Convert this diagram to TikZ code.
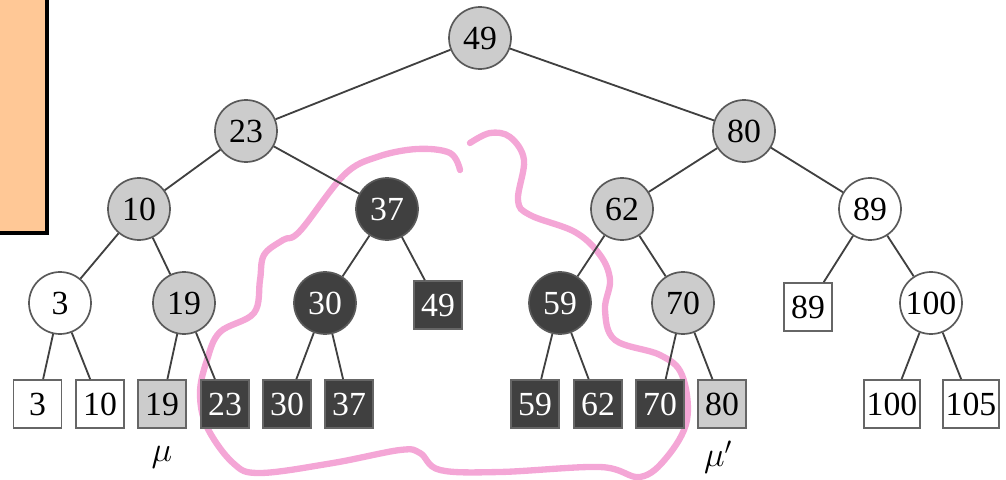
\documentclass[tikz,border=0pt]{standalone}
\usepackage{fontspec}
\setmainfont{Liberation Serif}
\definecolor{lightgrey}{RGB}{204,204,204}
\definecolor{darkgrey}{RGB}{64,64,64}
\definecolor{marker}{RGB}{244,166,214}
\definecolor{peach}{RGB}{255,200,150}

\begin{document}
\begin{tikzpicture}[
    font=\fontsize{24}{24}\selectfont,
    circ/.style={circle,draw=black!65,line width=1.2pt,minimum size=1.55cm,inner sep=0pt},
    sq/.style={rectangle,draw=black!60,line width=1.2pt,minimum size=1.2cm,inner sep=2pt},
    lite/.style={fill=lightgrey},
    dark/.style={fill=darkgrey,text=white},
    white/.style={fill=white},
    edge/.style={line width=1.3pt,black!75}]
            \useasboundingbox (0,0) rectangle (25.15,11.975);
            % box at the left edge
            \draw[line width=2.2pt,fill=peach] (-0.3,6.15) rectangle (1.175,12.3);
            % hand drawn marker round the middle part
            \draw[marker,line width=4.5pt,line cap=round] plot[smooth,tension=0.6] coordinates {
                (11.75,8.4) (12.25,8.65) (12.75,8.55) (13.1,7.975) (12.95,6.975)
                (13.25,6.6) (14.375,6.175) (15.0,5.6) (15.25,4.975) (15.125,4.225)
                (15.375,3.475) (16.5,3.1) (17.05,2.6) (17.175,1.475) (16.675,0.55)
                (16.0,0.05) (15.0,0.3) (12.5,0.175) (11.0,0.225) (10.5,0.65)
                (10.0,0.725) (8.325,0.4) (6.5,0.15) (5.825,0.4) (5.175,1.3)
                (5.0,2.15) (5.175,2.975) (5.5,3.675) (6.35,4.15) (6.5,4.975)
                (6.6,5.6) (7.075,5.975) (7.5,6.2) (8.6,7.6) (9.425,8.05)
                (10.425,8.25) (11.25,8.15) (11.5,7.725)};
            % inner nodes
            \node[circ,lite] (c49) at (12.0,11.025) {49};
            \node[circ,lite] (c23) at (6.15,8.7) {23};
            \node[circ,lite] (c80) at (18.6,8.7) {80};
            \node[circ,lite] (c10) at (3.475,6.75) {10};
            \node[circ,dark] (c37) at (9.675,6.75) {37};
            \node[circ,lite] (c62) at (15.55,6.75) {62};
            \node[circ,white] (c89) at (21.75,6.75) {89};
            \node[circ,white] (c3) at (1.5,4.4) {3};
            \node[circ,lite] (c19) at (4.6,4.4) {19};
            \node[circ,dark] (c30) at (8.125,4.4) {30};
            \node[circ,dark] (c59) at (14.0,4.4) {59};
            \node[circ,lite] (c70) at (17.075,4.4) {70};
            \node[circ,white] (c100) at (23.275,4.4) {100};
            % leaves
            \node[sq,dark] (s49) at (10.95,4.35) {49};
            \node[sq,white] (s89) at (20.2,4.3) {89};
            \node[sq,white] (s3) at (0.94,1.875) {3};
            \node[sq,white] (s10) at (2.5,1.875) {10};
            \node[sq,lite] (s19) at (4.05,1.875) {19};
            \node[sq,dark] (s23) at (5.625,1.875) {23};
            \node[sq,dark] (s30) at (7.175,1.875) {30};
            \node[sq,dark] (s37) at (8.725,1.875) {37};
            \node[sq,dark] (s59) at (13.375,1.875) {59};
            \node[sq,dark] (s62) at (14.95,1.875) {62};
            \node[sq,dark] (s70) at (16.5,1.875) {70};
            \node[sq,lite] (s80) at (18.05,1.875) {80};
            \node[sq,white] (s100) at (22.3,1.875) {100};
            \node[sq,white] (s105) at (24.275,1.875) {105};
            \foreach \a/\b in {c49/c23, c49/c80, c23/c10, c23/c37, c80/c62, c80/c89,
                c10/c3, c10/c19, c37/c30, c37/s49, c62/c59, c62/c70, c89/s89, c89/c100,
                c3/s3, c3/s10, c19/s19, c19/s23, c30/s30, c30/s37,
                c59/s59, c59/s62, c70/s70, c70/s80, c100/s100, c100/s105}
            \draw[edge] (\a) -- (\b);
            \node (mu) at (4.05,0.55) {$\mu$};
            \node (muprime) at (17.95,0.55) {$\mu'$};
        \end{tikzpicture}
\end{document}
